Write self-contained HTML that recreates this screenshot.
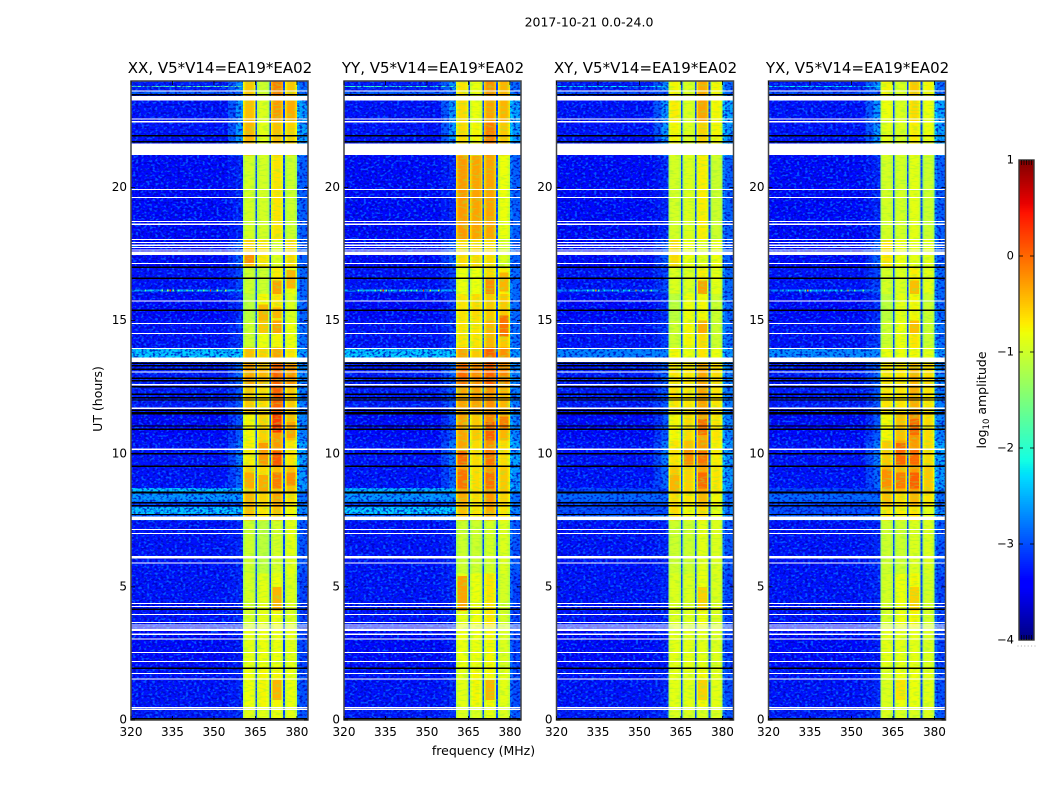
<!DOCTYPE html>
<html lang="en">
<head>
<meta charset="utf-8">
<title>2017-10-21 dynamic spectra</title>
<style>
html,body{margin:0;padding:0;background:#fff;width:1050px;height:800px;overflow:hidden}
svg{display:block}
text{font-family:"DejaVu Sans","Liberation Sans",sans-serif;fill:#000}
</style>
</head>
<body>
<svg id="figure" xmlns="http://www.w3.org/2000/svg" width="1050" height="800" viewBox="0 0 1050 800">
  <defs>
    <filter id="speckle-light" x="0" y="0" width="100%" height="100%" color-interpolation-filters="sRGB">
      <feTurbulence type="fractalNoise" baseFrequency="0.36 0.48" numOctaves="1" seed="4"/>
      <feColorMatrix type="matrix" values="0 0 0 0 0.02  0 0 0 0 0.42  0 0 0 0 1  7 0 0 0 -3.6"/>
    </filter>
    <filter id="speckle-dark" x="0" y="0" width="100%" height="100%" color-interpolation-filters="sRGB">
      <feTurbulence type="fractalNoise" baseFrequency="0.36 0.48" numOctaves="1" seed="11"/>
      <feColorMatrix type="matrix" values="0 0 0 0 0  0 0 0 0 0  0 0 0 0 0.72  0 7 0 0 -3.5"/>
    </filter>
    <filter id="speckle-band" x="0" y="0" width="100%" height="100%" color-interpolation-filters="sRGB">
      <feTurbulence type="fractalNoise" baseFrequency="0.16 0.6" numOctaves="1" seed="7"/>
      <feColorMatrix type="matrix" values="0 0 0 0 0.55  0 0 0 0 0.95  0 0 0 0 0.25  6 0 0 0 -3.0"/>
    </filter>
  </defs>
  <rect width="1050" height="800" fill="#fff"/>
  <text x="589" y="26.500" font-size="12.500" text-anchor="middle">2017-10-21 0.0-24.0</text>
  <g id="panels"></g>
  <text x="483.500" y="755" font-size="12.500" text-anchor="middle">frequency (MHz)</text>
  <text x="0" y="0" font-size="12.500" text-anchor="middle" transform="translate(102,399) rotate(-90)">UT (hours)</text>
  <g id="colorbar"></g>
  <text font-size="12.500" text-anchor="middle" transform="translate(986,400) rotate(-90)">log<tspan font-size="8.500" dy="3">10</tspan><tspan dy="-3"> amplitude</tspan></text>
</svg>
<script>
// ---- data ----
const panelTitles = ['XX, V5*V14=EA19*EA02', 'YY, V5*V14=EA19*EA02', 'XY, V5*V14=EA19*EA02', 'YX, V5*V14=EA19*EA02'];
const xTicks = [320, 335, 350, 365, 380];
const yTicks = [0, 5, 10, 15, 20];
const colorTicks = [1, 0, -1, -2, -3, -4];

// start hour of each time segment (the last runs to 24 h)
const segmentStarts = [0, 0.5, 2, 3.5, 5.5, 7.5, 8, 8.55, 9.5, 10.5, 11.5, 12.6, 13.4, 14, 15, 16, 17, 18.05, 21.2, 22.5, 23.5];

// log10 amplitude in each of the four sub-bands, per segment
const bandsXX = [[-0.85,-0.85,-0.8,-0.85],[-0.8,-0.75,-0.75,-0.8],[-0.85,-0.8,-0.8,-0.85],[-0.95,-0.85,-0.8,-0.9],[-1.0,-1.1,-0.95,-0.85],[-0.45,-0.65,-0.45,-0.75],[-0.4,-0.55,-0.3,-0.6],[-0.55,-0.6,-0.45,-0.45],[-0.7,-0.5,-0.25,-0.65],[-0.75,-0.55,-0.25,-0.45],[-0.5,-0.6,0.05,-0.5],[-0.3,-0.4,0.05,-0.2],[-0.45,-0.55,-0.3,-0.65],[-1.0,-0.8,-0.75,-0.8],[-1.1,-0.75,-0.65,-0.9],[-1.0,-1.0,-0.7,-0.8],[-0.55,-0.65,-0.9,-0.6],[-0.95,-0.95,-0.65,-1.0],[-0.4,-0.85,-0.45,-0.55],[-0.45,-0.9,-0.25,-0.35],[-0.5,-1.0,-0.1,-0.5]];
const bandsYY = [[-0.9,-0.9,-0.8,-0.9],[-0.85,-0.75,-0.75,-0.85],[-0.8,-0.8,-0.75,-0.9],[-0.85,-0.8,-0.65,-0.95],[-1.0,-1.0,-0.95,-0.9],[-0.45,-0.65,-0.35,-0.65],[-0.35,-0.6,-0.25,-0.55],[-0.3,-0.6,-0.25,-0.5],[-0.3,-0.6,-0.2,-0.6],[-0.3,-0.5,-0.15,-0.4],[-0.3,-0.3,-0.2,-0.4],[0,-0.2,0.05,-0.15],[-0.3,-0.5,0.05,-0.2],[-0.65,-0.65,-0.4,-0.5],[-0.65,-0.6,-0.5,-0.5],[-0.8,-0.8,-0.6,-0.7],[-0.6,-0.6,-0.6,-0.9],[-0.25,-0.3,-0.3,-0.8],[-0.6,-0.75,-0.1,-0.5],[-0.6,-0.8,-0.3,-0.4],[-0.65,-0.8,-0.2,-0.4]];
const bandsXY = [[-0.9,-0.9,-0.9,-0.9],[-0.85,-0.85,-0.75,-0.85],[-0.85,-0.85,-0.85,-0.9],[-0.9,-0.9,-0.8,-0.9],[-1.0,-1.0,-0.85,-0.9],[-0.6,-0.75,-0.6,-0.85],[-0.6,-0.65,-0.4,-0.75],[-0.5,-0.55,-0.3,-0.65],[-0.65,-0.45,-0.25,-0.7],[-0.75,-0.6,-0.3,-0.65],[-0.65,-0.65,-0.3,-0.65],[-0.65,-0.65,-0.3,-0.6],[-0.75,-0.8,-0.65,-0.8],[-1.0,-0.75,-0.6,-1.0],[-1.1,-0.8,-0.75,-1.0],[-0.9,-0.9,-0.7,-0.85],[-0.6,-0.8,-0.85,-0.8],[-0.95,-0.9,-0.7,-1.0],[-0.75,-0.9,-0.55,-0.75],[-0.7,-0.9,-0.3,-0.75],[-0.75,-0.9,-0.35,-0.75]];
const bandsYX = [[-0.9,-0.9,-0.9,-0.9],[-0.9,-0.8,-0.8,-0.85],[-0.85,-0.85,-0.85,-0.9],[-0.95,-0.8,-0.75,-0.95],[-1.0,-1.0,-0.9,-0.9],[-0.65,-0.7,-0.65,-0.85],[-0.45,-0.6,-0.4,-0.65],[-0.4,-0.4,-0.25,-0.5],[-0.5,-0.3,-0.25,-0.6],[-0.75,-0.45,-0.2,-0.6],[-0.65,-0.65,-0.35,-0.65],[-0.65,-0.65,-0.4,-0.6],[-0.8,-0.8,-0.75,-0.85],[-1.0,-0.8,-0.65,-1.0],[-1.1,-0.85,-0.75,-1.0],[-0.95,-0.9,-0.7,-0.85],[-0.65,-0.8,-0.85,-0.85],[-0.95,-0.95,-0.85,-1.0],[-0.85,-0.9,-0.7,-0.8],[-0.8,-0.9,-0.6,-0.8],[-0.75,-0.9,-0.5,-0.75]];

// brighter or fainter patches inside a sub-band: [sub-band index, start hour, end hour, level]
const patchesXX = [[2,0.75,1.5,-0.4],[2,4.1,5.0,-0.4],[0,8.7,9.3,-0.35],[1,8.6,9.2,-0.35],[2,8.7,9.3,-0.1],[3,8.8,9.3,-0.2],[1,9.6,10.4,-0.25],[2,9.55,10.1,0.1],[2,10.8,11.5,0.25],[3,10.6,11.2,-0.3],[2,14.5,15,-0.3],[1,14.5,15,-0.5],[1,15,15.6,-0.4],[2,15.1,15.5,-0.4],[2,16,16.5,-0.3],[3,16.2,16.9,-0.4],[0,17.1,17.6,-0.2]];
const patchesYY = [[0,4.1,5.4,-0.3],[2,0.75,1.5,-0.4],[0,8.7,9.4,-0.05],[2,8.7,9.3,-0.05],[0,9.6,10.1,0.0],[2,9.6,10.2,-0.05],[2,10.5,11.2,0.05],[3,10.9,11.4,-0.1],[3,14.4,15.2,-0.05],[2,16,16.6,-0.2],[3,16.1,16.8,-0.4]];
const patchesXY = [[2,0.75,1.5,-0.55],[2,4.1,5.0,-0.55],[2,8.7,9.3,0.0],[1,9.6,10.2,-0.2],[0,8.6,9.2,-0.4],[2,9.6,10.1,-0.05],[2,10.7,11.3,-0.05],[2,14.5,15,-0.35],[2,16,16.5,-0.3]];
const patchesYX = [[1,0.75,1.5,-0.65],[2,4.1,5.0,-0.55],[0,8.7,9.4,-0.2],[1,8.7,9.3,-0.1],[2,8.7,9.3,0.05],[1,9.6,10.4,0.0],[2,9.6,10.2,0.0],[2,10.7,11.3,0.0],[2,14.5,15,-0.45],[2,16,16.5,-0.45]];

// background, ramp (355-360.5 MHz) and post-band (380-384 MHz) levels per segment
const backgroundLevels = [-3.25,-3.3,-3.35,-3.3,-3.3,-2.9,-3.05,-3.3,-3.3,-3.35,-3.25,-3.25,-3.2,-3.3,-3.35,-3.3,-3.35,-3.35,-3.3,-3.3,-3.25];
const rampLevels = [-3.15,-3.2,-3.25,-3.2,-3.2,-2.7,-2.95,-2.85,-2.75,-2.95,-2.95,-2.85,-2.75,-3.1,-3.15,-3.05,-2.9,-3.2,-2.6,-2.6,-2.65];
const postLevels = [-2.95,-3.0,-3.05,-3.05,-2.95,-2.7,-2.8,-2.6,-2.55,-2.7,-2.75,-2.7,-2.6,-2.8,-2.85,-2.85,-2.9,-2.9,-2.55,-2.55,-2.85];

// sub-band layout in MHz, and level offsets across a sub-band
const bandStarts = [360.5, 365.6, 370.6, 375.6];
const bandEnds = [365.0, 370.0, 375.0, 380.0];
const bandShape = [-0.3, -0.05, 0, 0, 0, 0, -0.05, -0.25];
const gapLevel = -3.05;

// brighter rows across the background: start hour, end hour, level per panel
const brightRowStarts = [13.62, 8.58, 8.2, 7.72, 23.77, 23.5, 16.1];
const brightRowEnds = [13.96, 8.72, 8.5, 8.0, 23.82, 23.62, 16.16];
const brightRowLevelsXX = [-2.35, -2.4, -2.6, -2.4, -1.7, -2.9, -2.5];
const brightRowLevelsYY = [-2.35, -2.45, -2.6, -2.35, -1.9, -2.9, -2.5];
const brightRowLevelsXY = [-2.7, -3.05, -2.85, -3.0, -2.2, -3.0, -2.7];
const brightRowLevelsYX = [-2.65, -3.05, -2.85, -3.0, -2.2, -3.0, -2.7];

// narrow interference spikes on the 16.13 h row: frequency (MHz), level
const spikeFreqs = [325, 327, 331, 333, 334, 335, 337, 340, 342, 344, 346, 348.5, 351, 354];
const spikeLevels = [-1.6, -1.9, -1.6, -1.4, 0.3, -1.5, -1.9, -1.3, -1.7, -1.9, -1.6, 0.3, -1.2, -1.2];

// flagged (blanked) rows, in hours
const whiteLines = [23.62,22.57,22.47,19.93,19.63,18.72,18.62,18.05,17.93,17.83,17.75,17.65,17.14,15.73,14.9,14.51,13.96,13.07,11.71,10.17,7.16,7.01,5.89,4.38,4.27,3.97,3.67,3.57,3.49,3.42,3.37,3.22,3.05,2.54,2.2,1.75,1.54,0.46,0.4];
const whiteBandStarts = [23.26,21.23,17.46,13.45,12.56,7.51,6.06];
const whiteBandEnds = [23.44,21.66,17.59,13.62,12.62,7.64,6.16];
const blackLines = [23.48,21.95,21.72,17.0,16.59,15.39,13.4,13.3,13.17,12.83,12.74,12.52,12.24,12.1,12.02,11.64,11.54,11.49,11.04,10.92,10.0,9.53,8.55,8.16,8.05,7.72,4.16,1.95];
const blackBandStarts = [0, 8.5];
const blackBandEnds = [0.07, 8.58];

const panelLefts = [131, 344, 556.5, 768.5];
// -------------------------------------

const SVGNS = 'http://www.w3.org/2000/svg';
const AX_W = 177, AX_TOP = 81, AX_BOTTOM = 720;
const xMin = 320, xMax = 384, yMin = 0, yMax = 24;
const xScale = (left, f) => left + (f - xMin) / (xMax - xMin) * AX_W;
const yScale = h => AX_BOTTOM - (h - yMin) / (yMax - yMin) * (AX_BOTTOM - AX_TOP);

function jet(v) {
  const t = Math.max(0, Math.min(1, (v + 4) / 5));
  const lerp = (pts) => {
    for (let i = 1; i < pts.length; i++) {
      if (t <= pts[i][0]) {
        const a = pts[i - 1], b = pts[i];
        return a[1] + (b[1] - a[1]) * (t - a[0]) / (b[0] - a[0]);
      }
    }
    return pts[pts.length - 1][1];
  };
  const r = lerp([[0,0],[0.35,0],[0.66,1],[0.89,1],[1,0.5]]);
  const g = lerp([[0,0],[0.125,0],[0.375,1],[0.64,1],[0.91,0],[1,0]]);
  const b = lerp([[0,0.5],[0.11,1],[0.34,1],[0.65,0],[1,0]]);
  return 'rgb(' + Math.round(r * 255) + ',' + Math.round(g * 255) + ',' + Math.round(b * 255) + ')';
}

function svgEl(tag, parent, attrs) {
  const el = document.createElementNS(SVGNS, tag);
  for (const k in attrs) el.setAttribute(k, attrs[k]);
  parent.appendChild(el);
  return el;
}

function cell(g, left, f0, f1, h0, h1, v) {
  const x0 = xScale(left, f0), x1 = xScale(left, f1), y0 = yScale(h1), y1 = yScale(h0);
  const el = svgEl('rect', g, {x: x0.toFixed(2), y: y0.toFixed(2), width: (x1 - x0).toFixed(2), height: (y1 - y0).toFixed(2), fill: jet(v), 'shape-rendering': 'crispEdges'});
  
  
}

function flagRow(g, left, h0, h1, colour, name) {
  const y0 = yScale(h1), y1 = yScale(h0);
  const el = svgEl('rect', g, {x: left, y: y0.toFixed(2), width: AX_W, height: (y1 - y0).toFixed(2), fill: colour, 'shape-rendering': 'crispEdges'});
  
  
}

const panelsRoot = document.getElementById('panels');
const bandSets = [bandsXX, bandsYY, bandsXY, bandsYX];
const patchSets = [patchesXX, patchesYY, patchesXY, patchesYX];
const brightSets = [brightRowLevelsXX, brightRowLevelsYY, brightRowLevelsXY, brightRowLevelsYX];
const panelKeys = ['xx', 'yy', 'xy', 'yx'];

panelLefts.forEach((left, p) => {
  const panel = svgEl('g', panelsRoot, {});
  
  

  const heat = svgEl('g', panel, {});
  
  

  segmentStarts.forEach((h0, s) => {
    const h1 = s + 1 < segmentStarts.length ? segmentStarts[s + 1] : yMax;
    cell(heat, left, xMin, 355, h0, h1, backgroundLevels[s]);
    cell(heat, left, 355, 358, h0, h1, (backgroundLevels[s] + rampLevels[s]) / 2);
    cell(heat, left, 358, bandStarts[0], h0, h1, rampLevels[s]);
    cell(heat, left, bandEnds[3], 381, h0, h1, postLevels[s] + 0.2);
    cell(heat, left, 381, xMax, h0, h1, postLevels[s]);
  });

  brightRowStarts.forEach((h0, r) => {
    cell(heat, left, xMin, bandStarts[0], h0, brightRowEnds[r], brightSets[p][r]);
  });

  const noiseLight = svgEl('rect', panel, {x: left, y: AX_TOP, width: AX_W, height: AX_BOTTOM - AX_TOP, filter: 'url(#speckle-light)', opacity: 0.8});
  
  
  const noiseDark = svgEl('rect', panel, {x: left, y: AX_TOP, width: AX_W, height: AX_BOTTOM - AX_TOP, filter: 'url(#speckle-dark)', opacity: 0.7});
  
  

  const bandsTop = svgEl('g', panel, {});
  
  
  segmentStarts.forEach((h0, s) => {
    const h1 = s + 1 < segmentStarts.length ? segmentStarts[s + 1] : yMax;
    bandStarts.forEach((start, b) => {
      const end = bandEnds[b];
      const w = (end - start) / bandShape.length;
      bandShape.forEach((off, i) => {
        cell(bandsTop, left, start + i * w, start + (i + 1) * w, h0, h1, bandSets[p][s][b] + off);
      });
      if (b < bandStarts.length - 1) cell(bandsTop, left, end, bandStarts[b + 1], h0, h1, gapLevel);
    });
  });
  patchSets[p].forEach(patch => {
    const b = patch[0];
    const w = (bandEnds[b] - bandStarts[b]) / bandShape.length;
    cell(bandsTop, left, bandStarts[b] + w, bandEnds[b] - w, patch[1], patch[2], patch[3]);
  });

  const noiseBand = svgEl('rect', panel, {x: xScale(left, bandStarts[0]).toFixed(2), y: AX_TOP, width: (xScale(left, bandEnds[3]) - xScale(left, bandStarts[0])).toFixed(2), height: AX_BOTTOM - AX_TOP, filter: 'url(#speckle-band)', opacity: 0.38});
  
  

  spikeFreqs.forEach((f, i) => {
    cell(panel, left, f, f + 0.5, 16.1, 16.16, spikeLevels[i] - (p > 1 ? 0.4 : 0));
  });

  whiteLines.forEach(h => flagRow(panel, left, h - 0.02, h + 0.02, '#fff', 'flagged-row-white'));
  whiteBandStarts.forEach((h, i) => flagRow(panel, left, h, whiteBandEnds[i], '#fff', 'flagged-band-white'));
  blackLines.forEach(h => flagRow(panel, left, h - 0.025, h + 0.025, '#000', 'flagged-row-black'));
  blackBandStarts.forEach((h, i) => flagRow(panel, left, h, blackBandEnds[i], '#000', 'flagged-band-black'));

  // frame
  const frame = svgEl('rect', panel, {x: left, y: AX_TOP, width: AX_W, height: AX_BOTTOM - AX_TOP, fill: 'none', stroke: '#444', 'stroke-width': 1.5});
  
  

  // x ticks
  xTicks.forEach(t => {
    const x = xScale(left, t);
    const tb = svgEl('line', panel, {x1: x, x2: x, y1: AX_BOTTOM, y2: AX_BOTTOM - 4, stroke: '#000', 'stroke-width': 0.8});
    
    
    const tt = svgEl('line', panel, {x1: x, x2: x, y1: AX_TOP, y2: AX_TOP + 4, stroke: '#000', 'stroke-width': 0.8});
    
    
    const lab = svgEl('text', panel, {x: x, y: 736, 'font-size': 12, 'text-anchor': 'middle'});
    lab.textContent = String(t);
    
    
  });
  // y ticks
  yTicks.forEach(t => {
    const y = yScale(t);
    const tl = svgEl('line', panel, {x1: left, x2: left + 4, y1: y, y2: y, stroke: '#000', 'stroke-width': 0.8});
    
    
    const tr = svgEl('line', panel, {x1: left + AX_W, x2: left + AX_W - 4, y1: y, y2: y, stroke: '#000', 'stroke-width': 0.8});
    
    
    const lab = svgEl('text', panel, {x: left - 4, y: y + 3.500, 'font-size': 12, 'text-anchor': 'end'});
    lab.textContent = String(t);
    
    
  });

  const title = svgEl('text', panel, {x: left + AX_W / 2 + 0.5, y: 73, 'font-size': 15, 'text-anchor': 'middle'});
  title.textContent = panelTitles[p];
  
  
});

// colorbar
const cbRoot = document.getElementById('colorbar');
const CB_X = 1019, CB_W = 15, CB_TOP = 160, CB_BOTTOM = 640, vMin = -4, vMax = 1;
const cbY = v => CB_BOTTOM - (v - vMin) / (vMax - vMin) * (CB_BOTTOM - CB_TOP);
for (let i = 0; i < 240; i++) {
  const v = vMin + (i + 0.5) / 240 * (vMax - vMin);
  const seg = svgEl('rect', cbRoot, {x: CB_X, y: (cbY(v) - 1).toFixed(2), width: CB_W, height: 2.200, fill: jet(v)});
  
  
}
const cbFrame = svgEl('rect', cbRoot, {x: CB_X, y: CB_TOP, width: CB_W, height: CB_BOTTOM - CB_TOP, fill: 'none', stroke: '#333', 'stroke-width': 1.4});


colorTicks.forEach(v => {
  const y = cbY(v);
  if (v !== 1 && v !== -4) {
    const a = svgEl('line', cbRoot, {x1: CB_X, x2: CB_X + 4, y1: y, y2: y, stroke: '#000', 'stroke-width': 0.8});
    
    
    const b = svgEl('line', cbRoot, {x1: CB_X + CB_W, x2: CB_X + CB_W - 4, y1: y, y2: y, stroke: '#000', 'stroke-width': 0.8});
    
    
  }
  const lab = svgEl('text', cbRoot, {x: CB_X - 5, y: y + 3.500, 'font-size': 11.500, 'text-anchor': 'end'});
  lab.textContent = v < 0 ? '\u2212' + Math.abs(v) : String(v);
  
  
});
for (let i = 1; i <= 5; i++) {
  const x = CB_X + i * CB_W / 6;
  const tickTop = svgEl('line', cbRoot, {x1: x, x2: x, y1: CB_TOP, y2: CB_TOP + 5, stroke: '#000', 'stroke-width': 0.7});
  
  
  const tickBottom = svgEl('line', cbRoot, {x1: x, x2: x, y1: CB_BOTTOM, y2: CB_BOTTOM - 5, stroke: '#000', 'stroke-width': 0.7});
  
  
}
for (let i = 0; i < 6; i++) {
  const dot = svgEl('rect', cbRoot, {x: 1017.5 + i * 3.4, y: 645.500, width: 1, height: 1, fill: '#aaa'});
  
  
}
</script>
</body>
</html>
